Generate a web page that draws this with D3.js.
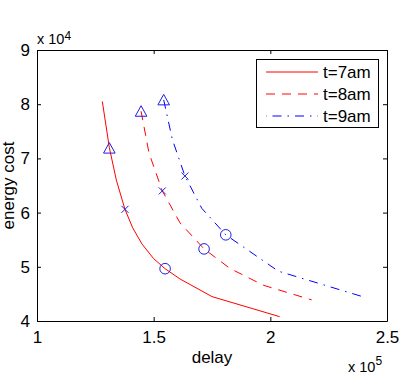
<!DOCTYPE html>
<html lang="en">
<head>
<meta charset="UTF-8">
<title>energy cost vs delay</title>
<script src="https://d3js.org/d3.v7.min.js"></script>
<style>
  body { margin: 0; background: #fff; }
  svg text { font-family: "Liberation Sans", Arial, sans-serif; fill: #000; }
  .axis path, .axis line { stroke: #000; }
  .axis text { font-size: 17px; }
</style>
</head>
<body>
<svg width="400" height="374"></svg>
<script>
// delay in units of 1e5, cost in units of 1e4
const t7Delay = [1.28, 1.31, 1.34, 1.377, 1.41, 1.45, 1.5, 1.549, 1.613, 1.75, 2.04];
const t7Cost  = [8.05, 7.2, 6.6, 6.06, 5.72, 5.42, 5.15, 4.965, 4.775, 4.45, 4.08];
const t8Delay = [1.446, 1.48, 1.537, 1.613, 1.716, 1.827, 1.97, 2.177];
const t8Cost  = [7.87, 7.1, 6.40, 5.81, 5.33, 4.97, 4.66, 4.39];
const t9Delay = [1.543, 1.58, 1.634, 1.706, 1.809, 2.034, 2.41];
const t9Cost  = [8.08, 7.35, 6.675, 6.08, 5.59, 4.92, 4.43];

const triangleDelay = [1.31, 1.446, 1.543];
const triangleCost  = [7.19, 7.87, 8.08];
const crossDelay = [1.377, 1.537, 1.634];
const crossCost  = [6.06, 6.40, 6.675];
const circleDelay = [1.549, 1.716, 1.809];
const circleCost  = [4.965, 5.33, 5.59];

const seriesNames = ["t=7am", "t=8am", "t=9am"];
const xTicks = [1, 1.5, 2, 2.5];
const yTicks = [4, 5, 6, 7, 8, 9];

const svg = d3.select("svg");
const plotLeft = 37, plotRight = 387, plotTop = 50, plotBottom = 321;

const x = d3.scaleLinear().domain([1, 2.5]).range([plotLeft, plotRight]);
const y = d3.scaleLinear().domain([4, 9]).range([plotBottom, plotTop]);

// axes, MATLAB style ticks pointing inward
svg.append("g").attr("class", "axis")
    .attr("transform", `translate(0,${plotBottom})`)
    .call(d3.axisBottom(x).tickValues(xTicks).tickFormat(d3.format("")).tickSize(-4).tickSizeOuter(0).tickPadding(10));
svg.append("g").attr("class", "axis")
    .attr("transform", `translate(${plotLeft},0)`)
    .call(d3.axisLeft(y).tickValues(yTicks).tickFormat(d3.format("")).tickSize(-4).tickSizeOuter(0).tickPadding(7));
svg.append("g").attr("class", "axis")
    .attr("transform", `translate(0,${plotTop})`)
    .call(d3.axisTop(x).tickValues(xTicks).tickFormat("").tickSize(-4).tickSizeOuter(0));
svg.append("g").attr("class", "axis")
    .attr("transform", `translate(${plotRight},0)`)
    .call(d3.axisRight(y).tickValues(yTicks).tickFormat("").tickSize(-4).tickSizeOuter(0));

// lines
const line = d3.line().x(d => x(d[0])).y(d => y(d[1]));
const series = [
  { d: t7Delay, c: t7Cost, color: "#ff0000", dash: null },
  { d: t8Delay, c: t8Cost, color: "#ff0000", dash: "9,7" },
  { d: t9Delay, c: t9Cost, color: "#0000ff", dash: "9,6,1.5,6" }
];
series.forEach(s => {
  svg.append("path")
      .datum(d3.zip(s.d, s.c))
      .attr("d", line)
      .attr("fill", "none")
      .attr("stroke", s.color)
      .attr("stroke-width", 1)
      .attr("stroke-dasharray", s.dash);
});

// markers
const markColor = "#1f1fe0";
svg.selectAll(".tri")
    .data(d3.zip(triangleDelay, triangleCost))
    .join("path")
    .attr("transform", d => `translate(${x(d[0])},${y(d[1])})`)
    .attr("d", "M0,-5.5L5.8,5L-5.8,5Z")
    .attr("fill", "none").attr("stroke", markColor);
svg.selectAll(".cross")
    .data(d3.zip(crossDelay, crossCost))
    .join("path")
    .attr("transform", d => `translate(${x(d[0])},${y(d[1])})`)
    .attr("d", "M-3.5,-3.5L3.5,3.5M3.5,-3.5L-3.5,3.5")
    .attr("fill", "none").attr("stroke", markColor);
svg.selectAll(".circ")
    .data(d3.zip(circleDelay, circleCost))
    .join("circle")
    .attr("cx", d => x(d[0])).attr("cy", d => y(d[1]))
    .attr("r", 5.3)
    .attr("fill", "none").attr("stroke", markColor);

// exponent labels
const e4 = svg.append("text").attr("x", 37).attr("y", 43.5).style("font-size", "14.5px");
e4.append("tspan").text("x 10");
e4.append("tspan").attr("dy", -3.5).style("font-size", "12px").text("4");
const e5 = svg.append("text").attr("x", 348).attr("y", 371.5).style("font-size", "14.5px");
e5.append("tspan").text("x 10");
e5.append("tspan").attr("dy", -7).style("font-size", "12px").text("5");

// axis labels
svg.append("text").attr("x", 212).attr("y", 363).attr("text-anchor", "middle")
    .style("font-size", "17px").text("delay");
svg.append("text").attr("transform", `translate(14,${(plotTop + plotBottom) / 2}) rotate(-90)`)
    .attr("text-anchor", "middle").style("font-size", "17px").text("energy cost");

// legend
const lg = svg.append("g");
lg.append("rect").attr("x", 256.5).attr("y", 59.5).attr("width", 122).attr("height", 68)
    .attr("fill", "#fff").attr("stroke", "#000");
seriesNames.forEach((name, i) => {
  const ry = 72 + i * 22;
  lg.append("line").attr("x1", 266).attr("x2", 318).attr("y1", ry).attr("y2", ry)
      .attr("stroke", series[i].color).attr("stroke-dasharray", series[i].dash)
      .attr("stroke-dashoffset", i === 2 ? 16 : 0);
  lg.append("text").attr("x", 323).attr("y", ry + 6).style("font-size", "17px").text(name);
});
</script>
</body>
</html>
